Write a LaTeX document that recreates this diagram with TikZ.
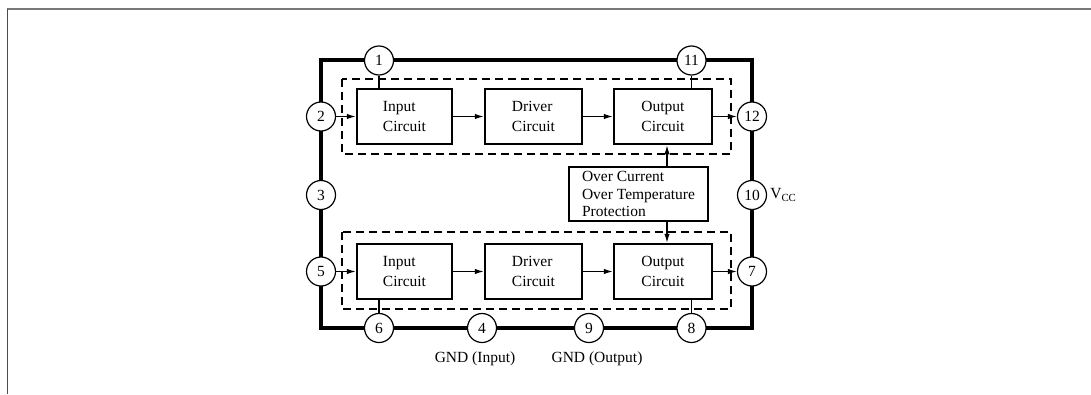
\documentclass[tikz,border=0pt]{standalone}
\usepackage{fontspec}
\setmainfont{Liberation Serif}
\usepackage{tikz}
\usetikzlibrary{arrows.meta, positioning, calc}
\definecolor{framegray}{RGB}{120,120,120}

\begin{document}
\begin{tikzpicture}[x=1pt, y=-1pt,
    block/.style={rectangle, draw, line width=2.5pt, minimum height=55pt, align=left, inner sep=0pt, font=\fontsize{15.5}{19.6}\selectfont},
    guard/.style={rectangle, draw, line width=2pt, minimum width=139pt, minimum height=54pt, align=left, inner sep=0pt, font=\fontsize{15.5}{17.3}\selectfont},
    pin/.style={circle, draw, fill=white, line width=1.2pt, minimum size=29pt, inner sep=0pt, font=\fontsize{15.5}{17}\selectfont},
    group/.style={draw, line width=1.3pt, dash pattern=on 8pt off 5pt},
    arrow/.style={-{Latex[length=9pt, width=5.5pt]}, line width=1.2pt},
    wire/.style={line width=1.2pt}
]
    \useasboundingbox (0,0) rectangle (1091,394);

    % Screenshot frame
    \draw[framegray, line width=1.5pt] (7,9) -- (1091,9);
    \draw[black!70, line width=1.5pt] (7.3,9) -- (7.3,394);

    % Package outline
    \draw[line width=3.5pt] (321,60) rectangle (752,328);

    % Channel groups
    \draw[group] (342,79) rectangle (731,154);
    \draw[group] (342,232) rectangle (731,309);

    % Upper channel
    \node[block, minimum width=95pt] (in1) at (404.5,116.5) {Input\\Circuit};
    \node[block, minimum width=97pt] (drv1) at (533.5,116.5) {Driver\\Circuit};
    \node[block, minimum width=98pt] (out1) at (663,116.5) {Output\\Circuit};

    % Lower channel
    \node[block, minimum width=95pt] (in2) at (404.5,271.5) {Input\\Circuit};
    \node[block, minimum width=97pt] (drv2) at (533.5,271.5) {Driver\\Circuit};
    \node[block, minimum width=98pt] (out2) at (663,271.5) {Output\\Circuit};

    % Protection
    \node[guard] (prot) at (638.5,194) {Over Current\\Over Temperature\\Protection};

    % Pins
    \node[pin] (p1) at (379,60.5) {1};
    \node[pin] (p11) at (691.5,60.5) {11};
    \node[pin] (p2) at (321,116.5) {2};
    \node[pin] (p3) at (321,195) {3};
    \node[pin] (p5) at (321,271.5) {5};
    \node[pin] (p12) at (752,116.5) {12};
    \node[pin] (p10) at (752,195) {10};
    \node[pin] (p7) at (752,271.5) {7};
    \node[pin] (p6) at (379,328) {6};
    \node[pin] (p4) at (482,328) {4};
    \node[pin] (p9) at (589,328) {9};
    \node[pin] (p8) at (691.5,328) {8};

    % Pin labels
    \node[right=3pt of p10, inner sep=0pt, font=\fontsize{15.5}{17}\selectfont] (vcc) {V\textsubscript{CC}};
    \node[font=\fontsize{15.5}{17}\selectfont] (gndin) at (475,359) {GND (Input)};
    \node[font=\fontsize{15.5}{17}\selectfont] (gndout) at (597,359) {GND (Output)};

    % Signal path
    \draw[arrow] (p2) -- (in1);
    \draw[arrow] (in1) -- (drv1);
    \draw[arrow] (drv1) -- (out1);
    \draw[arrow] (out1) -- (p12);
    \draw[arrow] (p5) -- (in2);
    \draw[arrow] (in2) -- (drv2);
    \draw[arrow] (drv2) -- (out2);
    \draw[arrow] (out2) -- (p7);

    % Protection links
    \draw[arrow] ([xshift=4pt]prot.north -| out1.south) -- ([xshift=4pt]out1.south);
    \draw[arrow] ([xshift=4pt]prot.south -| out2.north) -- ([xshift=4pt]out2.north);

    % Supply and ground taps
    \draw[wire] (p1) -- (p1 |- in1.north);
    \draw[wire] (p11) -- (p11 |- out1.north);
    \draw[wire] (p6) -- (p6 |- in2.south);
    \draw[wire] (p8) -- (p8 |- out2.south);

\end{tikzpicture}
\end{document}
